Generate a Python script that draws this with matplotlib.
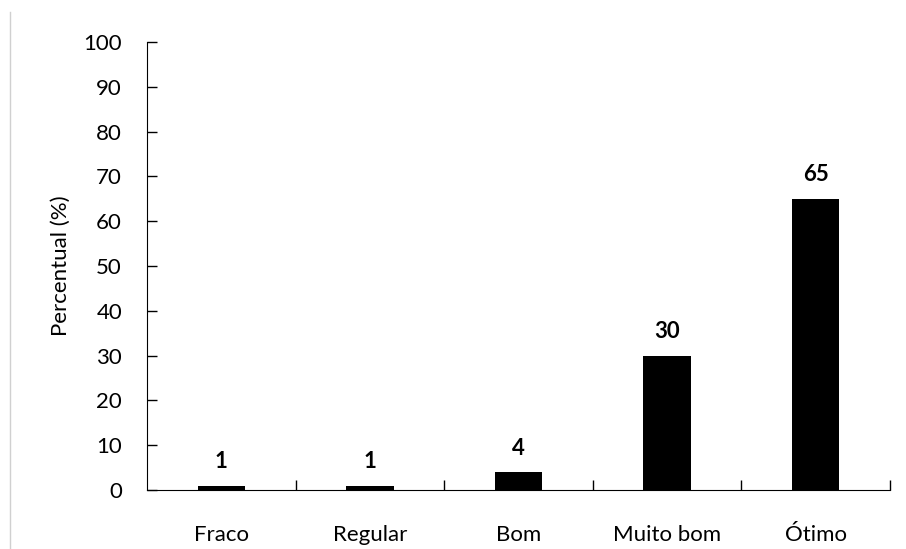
import matplotlib.pyplot as plt
from matplotlib.lines import Line2D

categorias = ['Fraco', 'Regular', 'Bom', 'Muito bom', 'Ótimo']
percentuais = [1, 1, 4, 30, 65]
yticks = [0, 10, 20, 30, 40, 50, 60, 70, 80, 90, 100]

plt.rcParams['font.family'] = ['Lato', 'DejaVu Sans']

fig = plt.figure(figsize=(9.06, 5.49), dpi=100)
ax = fig.add_axes([0.1623, 0.1075, 0.8200, 0.8160])

x = range(len(categorias))
ax.bar(x, percentuais, width=0.32, color='black')
for xi, v in zip(x, percentuais):
    ax.text(xi, v + 3, str(v), ha='center', va='bottom', fontsize=16, fontweight='bold')

ax.set_xlim(-0.5, len(categorias) - 0.5)
ax.set_ylim(0, 100)
ax.set_yticks(yticks)
ax.set_xticks(x)
ax.set_xticklabels(categorias)
ax.set_xticks([i + 0.5 for i in x], minor=True)
ax.tick_params(axis='x', which='major', length=0, pad=25, labelsize=16)
ax.tick_params(axis='x', which='minor', direction='in', length=7, width=1)
ax.tick_params(axis='y', direction='in', length=7, width=1, labelsize=16, pad=18)
ax.set_ylabel('Percentual (%)', fontsize=16, labelpad=9)
ax.spines['top'].set_visible(False)
ax.spines['right'].set_visible(False)

# faint frame line on the left edge
fig.add_artist(Line2D([10 / 906, 10 / 906], [0, 1 - 12 / 549], color='#d0d0d0', lw=1))

fig.savefig('out.png', dpi=100)
